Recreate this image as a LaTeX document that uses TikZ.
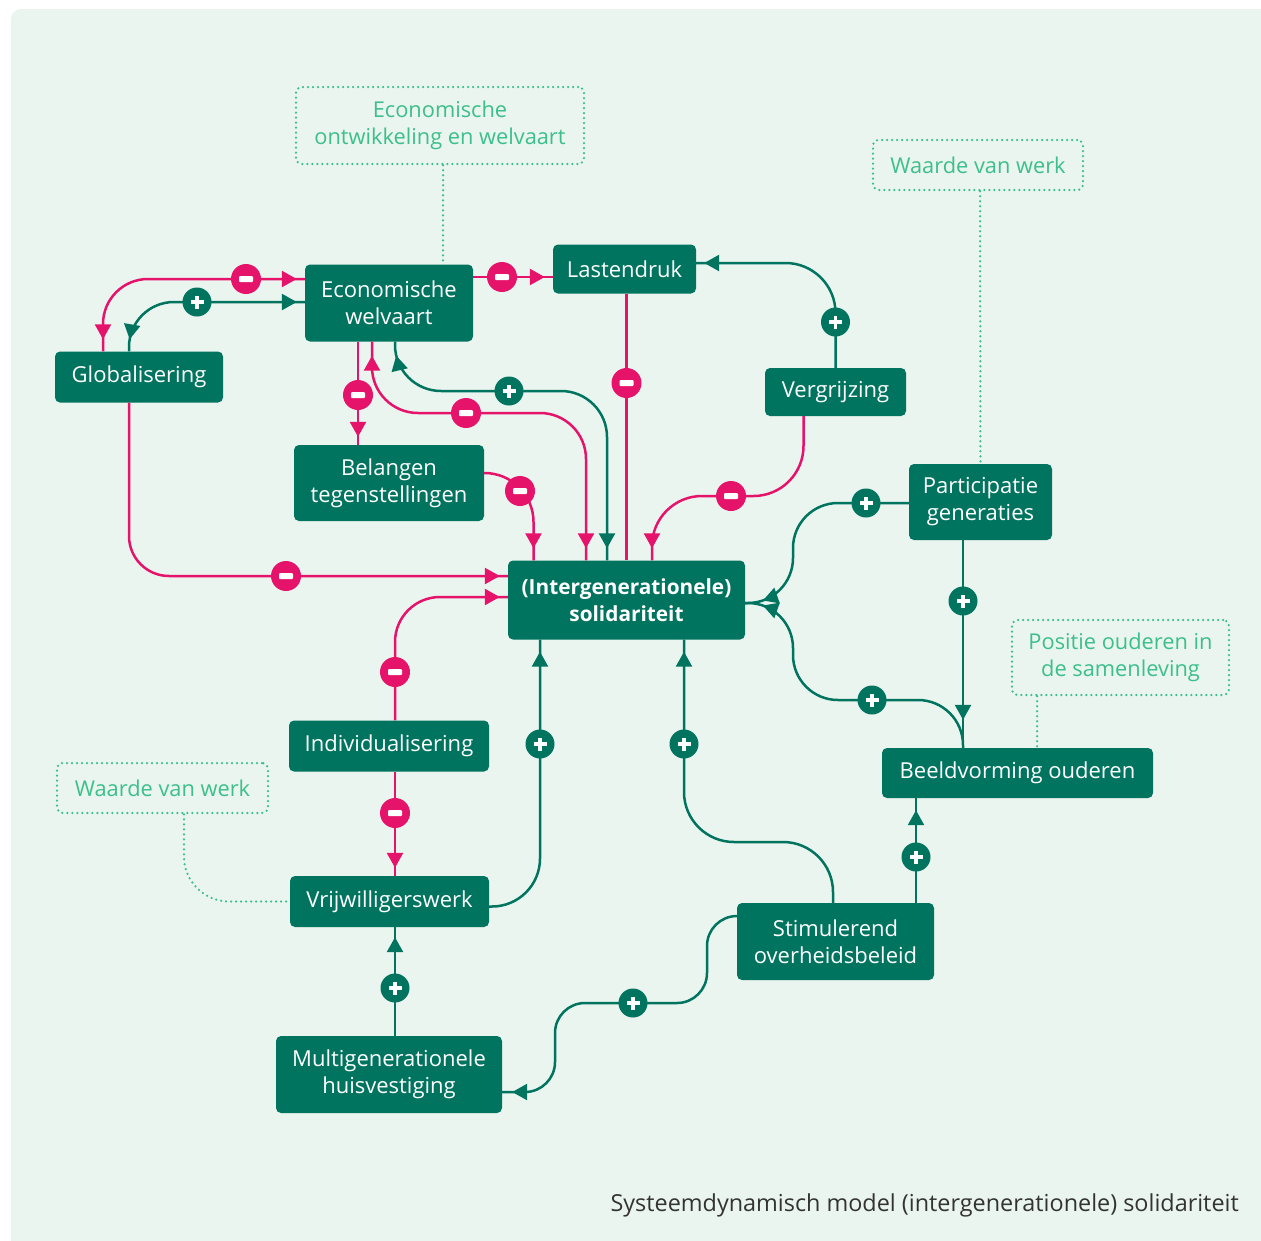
\documentclass[tikz,border=0pt]{standalone}
\usepackage{fontspec}
\setmainfont{Open Sans}
\usetikzlibrary{arrows.meta,decorations.markings}
\definecolor{bgc}{HTML}{EAF5EF}
\definecolor{dkgreen}{HTML}{00745F}
\definecolor{pinkc}{HTML}{E6136B}
\definecolor{notec}{HTML}{3CBF8C}
\definecolor{capc}{HTML}{333333}
\tikzset{
  box/.style={rectangle, rounded corners=5pt, fill=dkgreen, text=white, align=center,
    font=\fontsize{22}{27}\selectfont, inner sep=0pt},
  sz/.style 2 args={minimum width=#1pt, minimum height=#2pt},
  notebox/.style={rectangle, rounded corners=6pt, draw=notec, line width=2.5pt,
    dash pattern=on 0pt off 5pt, line cap=round, text=notec, align=center,
    font=\fontsize{21.8}{27}\selectfont, inner sep=0pt},
  dotline/.style={draw=notec, line width=2.5pt, dash pattern=on 0pt off 5pt, line cap=round},
  pk/.style={draw=pinkc, line width=2.5pt},
  gr/.style={draw=dkgreen, line width=2.5pt},
  tipE/.style={postaction={decorate, decoration={markings,
    mark=at position -#1 with {\arrow{Triangle[length=15pt,width=16pt]}}}}},
  tipE/.default=8pt,
  tipS/.style={postaction={decorate, decoration={markings,
    mark=at position #1 with {\arrowreversed{Triangle[length=15pt,width=16pt]}}}}},
  tipS/.default=10pt,
  minus/.style={circle, fill=pinkc, minimum size=30pt, inner sep=0pt,
    path picture={\fill[white, rounded corners=1pt] ([xshift=-7pt,yshift=-3pt]path picture bounding box.center) rectangle ([xshift=7pt,yshift=3pt]path picture bounding box.center);}},
  plus/.style={circle, fill=dkgreen, minimum size=29pt, inner sep=0pt,
    path picture={\fill[white] ([xshift=-6.5pt,yshift=-1.7pt]path picture bounding box.center) rectangle ([xshift=6.5pt,yshift=1.7pt]path picture bounding box.center);
      \fill[white] ([xshift=-1.7pt,yshift=-6.5pt]path picture bounding box.center) rectangle ([xshift=1.7pt,yshift=6.5pt]path picture bounding box.center);}}
}
\begin{document}
\begin{tikzpicture}[x=1pt,y=-1pt]
\useasboundingbox (0,0) rectangle (1261,1240);
\fill[bgc, rounded corners=10pt] (11,9) rectangle (1280,1260);

% main nodes
\node[box, sz={168}{51}] (glob) at (139,377) {Globalisering};
\node[box, sz={168}{77}] (econ) at (389,303) {Economische\\welvaart};
\node[box, sz={143}{49}] (last) at (624.5,269) {Lastendruk};
\node[box, sz={141}{48}] (verg) at (835.5,392) {Vergrijzing};
\node[box, sz={190}{76}] (bel) at (389,483) {Belangen\\tegenstellingen};
\node[box, sz={237}{79}, font=\fontsize{20.8}{27}\selectfont\bfseries] (sol) at (626.5,600) {(Intergenerationele)\\solidariteit};
\node[box, sz={143}{76}] (part) at (980.5,502) {Participatie\\generaties};
\node[box, sz={200}{51}] (indiv) at (389,746) {Individualisering};
\node[box, sz={199}{51}] (vrij) at (389.5,901.5) {Vrijwilligerswerk};
\node[box, sz={226}{77}] (multi) at (389,1074.5) {Multigenerationele\\huisvestiging};
\node[box, sz={197}{77}] (stim) at (835.5,941.5) {Stimulerend\\overheidsbeleid};
\node[box, sz={271}{50}] (beeld) at (1017.5,773) {Beeldvorming ouderen};

% note boxes
\node[notebox, sz={288}{77}] (note1) at (440,125.5) {Economische\\ontwikkeling en welvaart};
\node[notebox, sz={210}{50}] (note2) at (978,165) {Waarde van werk};
\node[notebox, sz={217}{75}] (note3) at (1120.5,657.5) {Positie ouderen in\\de samenleving};
\node[notebox, sz={211}{50}] (note4) at (162.5,788) {Waarde van werk};

% dotted connectors
\draw[dotline] ([xshift=3pt]note1.south) -- ([xshift=54pt]econ.north);
\draw[dotline] ([xshift=2pt]note2.south) -- (part.north);
\draw[dotline] ([xshift=-83.5pt]note3.south) -- ([xshift=19.5pt]beeld.north);
\draw[dotline, rounded corners=45pt] ([xshift=21.5pt]note4.south) -- (184,901.5) -- (vrij.west);

% connectors
\draw[pk, rounded corners=45pt, tipS=12pt, tipE] ([xshift=-36pt]glob.north) |- ([yshift=24pt]econ.west);
\draw[gr, rounded corners=45pt, tipS=12pt, tipE] ([xshift=-10pt]glob.north) |- ([yshift=1pt]econ.west);
\draw[pk, tipE] ([yshift=26pt]econ.east) -- ([yshift=-8pt]last.west);
\draw[pk, tipE] ([xshift=-31pt]econ.south) -- ([xshift=-31pt]bel.north);
\draw[pk, rounded corners=46pt, tipS=14pt, tipE=12pt] ([xshift=-17pt]econ.south) -- (372,413) -- (586,413) -- ([xshift=-40.5pt]sol.north);
\draw[gr, rounded corners=46pt, tipS=14pt, tipE=12pt] ([xshift=6pt]econ.south) -- (395,391) -- (607,391) -- ([xshift=-19.5pt]sol.north);
\draw[pk] ([xshift=2pt]last.south) -- (sol.north);
\draw[gr, rounded corners=50pt, tipE] (verg.north) -- (835.5,263) -- ([yshift=6pt]last.east);
\draw[pk, rounded corners=50pt, tipE=12pt] ([xshift=-32pt]verg.south) -- (803.5,496) -- (652,496) -- ([xshift=25.5pt]sol.north);
\draw[pk, rounded corners=49pt, tipE=12pt] ([yshift=10pt]bel.east) -- (533.5,473) -- ([xshift=-93pt]sol.north);
\draw[pk, rounded corners=40pt, tipE] ([xshift=-10pt]glob.south) -- (129,576) -- ([yshift=24pt]sol.west);
\draw[pk, rounded corners=45pt, tipE] ([xshift=6pt]indiv.north) -- (395,597) -- ([yshift=3pt]sol.west);
\draw[pk, tipE] ([xshift=6pt]indiv.south) -- ([xshift=5.5pt]vrij.north);
\draw[gr, rounded corners=48pt, tipE=12pt] ([yshift=-5pt]vrij.east) -- (540,906.5) -- ([xshift=-86.5pt]sol.south);
\draw[gr, tipE=10pt] ([xshift=6pt]multi.north) -- ([xshift=5.5pt]vrij.south);
\draw[gr, rounded corners=50pt, tipE=12pt] ([xshift=-2.5pt]stim.north) -- (833,842) -- (684,842) -- ([xshift=57.5pt]sol.south);
\draw[gr, tipE=12pt] ([xshift=80.5pt]stim.north) -- ([xshift=-101.5pt]beeld.south);
\draw[gr, rounded corners=30pt, tipE=10pt] ([yshift=25.5pt]stim.west) -- (707,916) -- (707,1003) -- (555,1003) -- (555,1092) -- ([yshift=-17.5pt]multi.east);
\draw[gr, rounded corners=45pt, tipE=18pt] ([yshift=-1pt]part.west) -- (793,503) -- (793,603) -- ([yshift=-3pt]sol.east);
\draw[gr, rounded corners=45pt, tipE=18pt] ([xshift=-54.5pt]beeld.north) -- (963,700) -- (793,700) -- (793,603) -- ([yshift=-3pt]sol.east);
\draw[gr, tipE=28pt] ([xshift=-17.5pt]part.south) -- ([xshift=-54.5pt]beeld.north);

% signs
\node[minus] (m1) at (246,279) {};
\node[plus] (p1) at (197,302) {};
\node[minus] (m2) at (502,277) {};
\node[minus] (m3) at (358,395) {};
\node[minus] (m4) at (466,413) {};
\node[plus] (p2) at (509,391) {};
\node[minus] (m5) at (626.5,383) {};
\node[plus] (p3) at (835.5,322) {};
\node[minus] (m6) at (731,496) {};
\node[minus] (m7) at (520,491) {};
\node[minus] (m8) at (286,576) {};
\node[minus] (m9) at (395,672) {};
\node[minus] (m10) at (395,813) {};
\node[plus] (p4) at (540,744) {};
\node[plus] (p5) at (395,988) {};
\node[plus] (p6) at (684,744) {};
\node[plus] (p7) at (916,857) {};
\node[plus] (p8) at (633,1003) {};
\node[plus] (p9) at (866,503) {};
\node[plus] (p10) at (872,700) {};
\node[plus] (p11) at (963,601) {};

% caption
\node[anchor=east, text=capc, font=\fontsize{23.4}{27}\selectfont, inner sep=0pt] (cap) at (1239,1205) {Systeemdynamisch model (intergenerationele) solidariteit};
\end{tikzpicture}
\end{document}
